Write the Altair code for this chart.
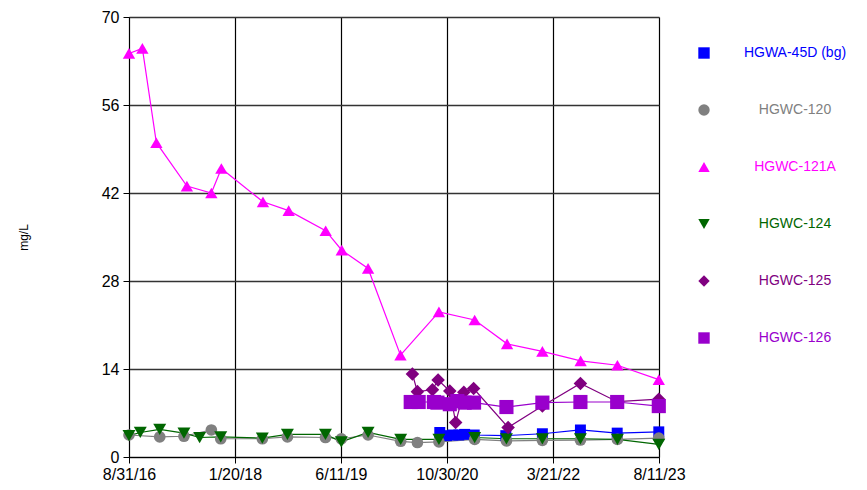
import altair as alt
import pandas as pd

series_names = ["HGWA-45D (bg)", "HGWC-120", "HGWC-121A", "HGWC-124", "HGWC-125", "HGWC-126"]
series_colors = ["#0000FF", "#808080", "#FF00FF", "#006600", "#800080", "#9900CC"]
series_shapes = ["square", "circle", "triangle-up", "triangle-down", "diamond", "square"]
series_sizes = [150, 130, 210, 180, 120, 200]

hgwa45d_dates = ["2020-09-26", "2020-10-29", "2020-11-27", "2020-12-26", "2021-01-23", "2021-03-10",
                 "2021-08-08", "2022-01-30", "2022-07-31", "2023-01-23", "2023-08-10"]
hgwa45d_values = [3.9, 3.4, 3.5, 3.5, 3.6, 3.5, 3.4, 3.7, 4.3, 3.8, 4.0]

hgwc120_dates = ["2016-08-31", "2017-01-25", "2017-05-21", "2017-09-29", "2017-11-13", "2018-05-31",
                 "2018-09-28", "2019-03-29", "2019-06-13", "2019-10-19", "2020-03-23", "2020-06-11",
                 "2020-09-22", "2021-03-12", "2021-08-11", "2022-01-30", "2022-07-31", "2023-01-24",
                 "2023-08-10"]
hgwc120_values = [3.5, 3.2, 3.3, 4.3, 2.9, 2.9, 3.2, 3.1, 2.9, 3.5, 2.5, 2.3, 2.4, 2.8, 2.55, 2.65,
                  2.7, 2.8, 3.0]

hgwc121a_dates = ["2016-08-31", "2016-11-03", "2017-01-09", "2017-06-04", "2017-09-29", "2017-11-16",
                  "2018-06-03", "2018-10-04", "2019-03-30", "2019-06-15", "2019-10-19", "2020-03-22",
                  "2020-09-22", "2021-03-12", "2021-08-14", "2022-01-30", "2022-08-01", "2023-01-24",
                  "2023-08-10"]
hgwc121a_values = [64.2, 65.0, 50.0, 43.1, 42.0, 45.9, 40.6, 39.2, 36.0, 32.9, 30.0, 16.2, 23.1, 21.8,
                   18.0, 16.8, 15.3, 14.6, 12.3]

hgwc124_dates = ["2016-08-31", "2016-10-24", "2017-01-25", "2017-05-21", "2017-08-04", "2017-11-13",
                 "2018-05-31", "2018-09-28", "2019-03-29", "2019-06-13", "2019-10-19", "2020-03-23",
                 "2020-09-22", "2021-03-12", "2021-08-11", "2022-01-30", "2022-07-31", "2023-01-24",
                 "2023-08-10"]
hgwc124_values = [3.4, 3.9, 4.4, 3.8, 3.1, 3.2, 3.0, 3.6, 3.6, 2.4, 3.9, 2.8, 2.8, 3.1, 2.9, 2.9, 2.9,
                  2.8, 2.0]

hgwc125_dates = ["2020-05-18", "2020-06-11", "2020-08-22", "2020-09-18", "2020-11-13", "2020-12-11",
                 "2021-01-19", "2021-03-07", "2021-08-19", "2022-01-30", "2022-07-31", "2023-01-23",
                 "2023-08-10"]
hgwc125_values = [13.2, 10.4, 10.7, 12.25, 10.5, 5.5, 10.3, 10.9, 4.7, 8.1, 11.7, 8.8, 9.2]

hgwc126_dates = ["2020-05-10", "2020-06-17", "2020-08-29", "2020-09-15", "2020-11-13", "2020-12-19",
                 "2021-01-23", "2021-03-09", "2021-08-11", "2022-01-30", "2022-07-31", "2023-01-23",
                 "2023-08-10"]
hgwc126_values = [8.75, 8.75, 8.75, 8.65, 8.4, 8.9, 8.65, 8.65, 7.95, 8.65, 8.75, 8.75, 8.1]

x_tick_dates = [(2016, 8, 31), (2018, 1, 20), (2019, 6, 11), (2020, 10, 30), (2022, 3, 21), (2023, 8, 11)]
y_ticks = [0, 14, 28, 42, 56, 70]

all_dates = [hgwa45d_dates, hgwc120_dates, hgwc121a_dates, hgwc124_dates, hgwc125_dates, hgwc126_dates]
all_values = [hgwa45d_values, hgwc120_values, hgwc121a_values, hgwc124_values, hgwc125_values, hgwc126_values]

rows = []
for name, ds, vs in zip(series_names, all_dates, all_values):
    for d, v in zip(ds, vs):
        rows.append({"series": name, "date": d, "value": v})
df = pd.DataFrame(rows)

FONT = "Liberation Sans"

def dt(t):
    return alt.DateTime(year=t[0], month=t[1], date=t[2], utc=True)

x_enc = alt.X(
    "date:T",
    scale=alt.Scale(type="utc", domain=[dt(x_tick_dates[0]), dt(x_tick_dates[-1])], nice=False),
    axis=alt.Axis(
        values=[dt(t) for t in x_tick_dates], format="%-m/%-d/%y", title=None,
        labelFont=FONT, labelFontSize=16, labelColor="black", labelPadding=3,
        labelOverlap=False, labelBound=False, labelFlush=False,
        tickColor="black", tickSize=6, domainColor="black",
        grid=True, gridColor="black", gridWidth=1.2,
    ),
)
y_enc = alt.Y(
    "value:Q",
    scale=alt.Scale(domain=[0, 70], nice=False),
    axis=alt.Axis(
        values=y_ticks, title="mg/L", titleFont=FONT, titleFontSize=12, titleFontWeight="normal",
        titleX=-99, titleY=220, titleColor="black",
        labelFont=FONT, labelFontSize=16, labelColor="black", labelPadding=4,
        tickColor="black", tickSize=6, domainColor="black",
        grid=True, gridColor="#333333", gridWidth=1.5,
    ),
)

color_scale = alt.Scale(domain=series_names, range=series_colors)
shape_scale = alt.Scale(domain=series_names, range=series_shapes)
# stroke and size scales use the reversed order so their (hidden) legends are not merged
stroke_scale = alt.Scale(domain=series_names[::-1], range=series_colors[::-1])
size_scale = alt.Scale(domain=series_names[::-1], range=series_sizes[::-1])

legend_spec = dict(
    title=None, orient="none", legendX=568, legendY=29,
    symbolSize=130, symbolStrokeWidth=0, symbolOpacity=1,
    labelFont=FONT, labelFontSize=14, labelAlign="center", labelOffset=84,
    rowPadding=43, labelLimit=300,
    labelColor={"expr": "scale('color', datum.value)"},
)

lines = alt.Chart(df).mark_line(strokeWidth=1.2).encode(
    x=x_enc, y=y_enc,
    stroke=alt.Stroke("series:N", scale=stroke_scale, legend=None),
    detail="series:N",
    order="date:T",
)

points = alt.Chart(df).mark_point(filled=True, opacity=1).encode(
    x=x_enc, y=y_enc,
    color=alt.Color("series:N", scale=color_scale, legend=alt.Legend(**legend_spec)),
    shape=alt.Shape("series:N", scale=shape_scale, legend=alt.Legend(**legend_spec)),
    size=alt.Size("series:N", scale=size_scale, legend=None),
)

chart = alt.layer(lines, points).properties(
    width=530, height=440,
    autosize=alt.AutoSizeParams(type="none"),
    padding={"left": 121, "top": 9, "right": 200, "bottom": 24},
).configure_view(stroke="black", strokeWidth=1).configure(background="white")

chart.save("out.html", embed_options={"renderer": "svg", "actions": False})
